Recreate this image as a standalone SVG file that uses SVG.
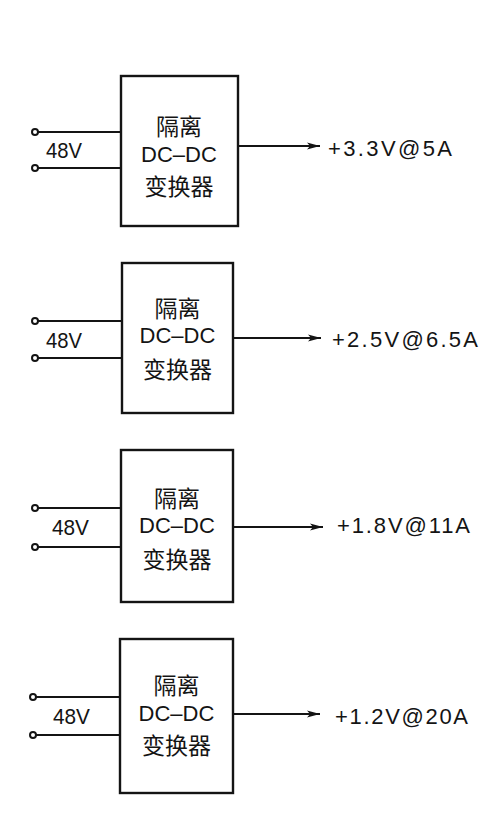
<svg xmlns="http://www.w3.org/2000/svg" width="498" height="818" viewBox="0 0 498 818">
<style>
.box{fill:#fff;stroke:#141414;stroke-width:2.4}
.w{stroke:#141414;stroke-width:2;fill:none}
.term{fill:#fff;stroke:#141414;stroke-width:2}
.cn{font-family:"Noto Sans CJK SC","Liberation Sans",sans-serif;font-size:23px;text-anchor:middle;fill:#141414}
.en{font-family:"Liberation Sans",Arial,sans-serif;font-size:22px;fill:#141414}
.mid{text-anchor:middle}
</style>
<defs>
<marker id="ah" markerWidth="14" markerHeight="10" refX="13" refY="5" orient="auto" markerUnits="userSpaceOnUse">
<path d="M0,1.5 L13,5 L0,8.5 L3,5 Z" fill="#141414"/>
</marker>
</defs>
<rect width="498" height="818" fill="#fff"/>
<g id="connectors">
<line class="w" x1="38" y1="132" x2="121" y2="132"/>
<line class="w" x1="38" y1="168" x2="121" y2="168"/>
<line class="w" x1="238" y1="146" x2="320" y2="146" marker-end="url(#ah)"/>
<line class="w" x1="38" y1="321" x2="122" y2="321"/>
<line class="w" x1="38" y1="358" x2="122" y2="358"/>
<line class="w" x1="233" y1="338" x2="321" y2="338" marker-end="url(#ah)"/>
<line class="w" x1="38" y1="508" x2="121" y2="508"/>
<line class="w" x1="38" y1="547" x2="121" y2="547"/>
<line class="w" x1="233" y1="527" x2="323" y2="527" marker-end="url(#ah)"/>
<line class="w" x1="36" y1="697" x2="120" y2="697"/>
<line class="w" x1="36" y1="735" x2="120" y2="735"/>
<line class="w" x1="233" y1="714" x2="320" y2="714" marker-end="url(#ah)"/>
</g>
<g id="in1">
<circle class="term" cx="35" cy="132" r="3"/>
<circle class="term" cx="35" cy="168" r="3"/>
<text class="en" x="46" y="158" textLength="36" lengthAdjust="spacingAndGlyphs">48V</text>
</g>
<g id="conv1">
<rect class="box" x="121" y="76" width="117" height="150"/>
<text class="cn" x="179" y="135">隔离</text>
<text class="en mid" x="179" y="162">DC–DC</text>
<text class="cn" x="179" y="195">变换器</text>
</g>
<g id="out1">
<text class="en" x="328" y="156" textLength="124" lengthAdjust="spacing">+3.3V@5A</text>
</g>
<g id="in2">
<circle class="term" cx="35" cy="321" r="3"/>
<circle class="term" cx="35" cy="358" r="3"/>
<text class="en" x="46" y="348" textLength="36" lengthAdjust="spacingAndGlyphs">48V</text>
</g>
<g id="conv2">
<rect class="box" x="122" y="263" width="111" height="150"/>
<text class="cn" x="177.5" y="317">隔离</text>
<text class="en mid" x="177.5" y="343">DC–DC</text>
<text class="cn" x="177.5" y="378">变换器</text>
</g>
<g id="out2">
<text class="en" x="332" y="347" textLength="146" lengthAdjust="spacing">+2.5V@6.5A</text>
</g>
<g id="in3">
<circle class="term" cx="35" cy="508" r="3"/>
<circle class="term" cx="35" cy="547" r="3"/>
<text class="en" x="52" y="535" textLength="37" lengthAdjust="spacingAndGlyphs">48V</text>
</g>
<g id="conv3">
<rect class="box" x="121" y="450" width="112" height="152"/>
<text class="cn" x="177" y="507">隔离</text>
<text class="en mid" x="177" y="533">DC–DC</text>
<text class="cn" x="177" y="568">变换器</text>
</g>
<g id="out3">
<text class="en" x="337" y="533" textLength="133" lengthAdjust="spacing">+1.8V@11A</text>
</g>
<g id="in4">
<circle class="term" cx="33" cy="697" r="3"/>
<circle class="term" cx="33" cy="735" r="3"/>
<text class="en" x="53" y="724" textLength="37" lengthAdjust="spacingAndGlyphs">48V</text>
</g>
<g id="conv4">
<rect class="box" x="120" y="639" width="113" height="154"/>
<text class="cn" x="176.5" y="694">隔离</text>
<text class="en mid" x="176.5" y="721">DC–DC</text>
<text class="cn" x="176.5" y="754">变换器</text>
</g>
<g id="out4">
<text class="en" x="335" y="724" textLength="133" lengthAdjust="spacing">+1.2V@20A</text>
</g>
</svg>
